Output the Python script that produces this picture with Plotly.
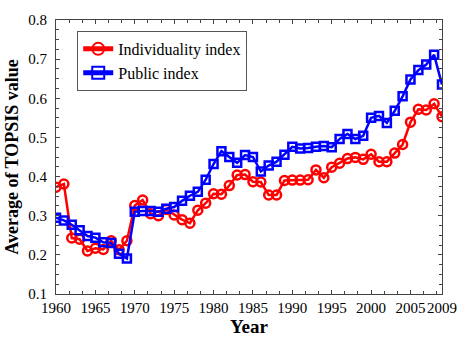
import plotly.graph_objects as go

years = list(range(1960, 2010))
individuality = [0.373, 0.381, 0.243, 0.240, 0.210, 0.217, 0.214, 0.236, 0.213, 0.236,
                 0.326, 0.340, 0.305, 0.300, 0.316, 0.302, 0.290, 0.281, 0.314, 0.332,
                 0.356, 0.355, 0.377, 0.404, 0.405, 0.387, 0.386, 0.353, 0.353, 0.390,
                 0.391, 0.391, 0.392, 0.417, 0.397, 0.424, 0.434, 0.446, 0.449, 0.444,
                 0.457, 0.438, 0.438, 0.460, 0.482, 0.539, 0.572, 0.570, 0.586, 0.553]
public = [0.295, 0.288, 0.277, 0.263, 0.248, 0.244, 0.232, 0.230, 0.203, 0.191,
          0.310, 0.312, 0.312, 0.310, 0.318, 0.322, 0.338, 0.351, 0.361, 0.392,
          0.432, 0.465, 0.450, 0.435, 0.455, 0.450, 0.413, 0.428, 0.438, 0.456,
          0.476, 0.472, 0.473, 0.476, 0.478, 0.475, 0.496, 0.509, 0.496, 0.504,
          0.550, 0.555, 0.537, 0.568, 0.605, 0.648, 0.672, 0.686, 0.711, 0.635]
x_ticks = [1960, 1965, 1970, 1975, 1980, 1985, 1990, 1995, 2000, 2005, 2009]
y_ticks = [0.1, 0.2, 0.3, 0.4, 0.5, 0.6, 0.7, 0.8]

font = "Liberation Serif, Times New Roman, serif"

fig = go.Figure()
fig.add_trace(go.Scatter(
    x=years, y=individuality, name="Individuality index", mode="lines+markers",
    line=dict(color="#ff0000", width=2.5),
    marker=dict(symbol="circle-open", size=9, color="#ff0000", line=dict(width=2.5)),
))
fig.add_trace(go.Scatter(
    x=years, y=public, name="Public index", mode="lines+markers",
    line=dict(color="#0000ff", width=2.5),
    marker=dict(symbol="square-open", size=8, color="#0000ff", line=dict(width=2.5)),
))

axis_common = dict(showline=True, linecolor="#444", linewidth=1, mirror="ticks",
                   ticks="inside", ticklen=4, tickcolor="#444", showgrid=False,
                   zeroline=False, tickfont=dict(family=font, size=15, color="black"))

fig.update_layout(
    width=469, height=343,
    margin=dict(l=53, r=17, t=12, b=46),
    paper_bgcolor="white", plot_bgcolor="white",
    font=dict(family=font, color="black"),
    showlegend=True,
    legend=dict(x=0.055, y=0.96, xanchor="left", yanchor="top",
                bordercolor="#555", borderwidth=1, bgcolor="white",
                font=dict(family=font, size=16, color="black"),
                tracegroupgap=0, itemwidth=30, itemsizing="constant"),
    xaxis=dict(range=[1960, 2009], tickvals=x_ticks, ticktext=[str(v) for v in x_ticks],
               tickangle=0,
               title=dict(text="<b>Year</b>", font=dict(family=font, size=19), standoff=2),
               minor=dict(dtick=5/3, tick0=1960, ticks="inside", ticklen=3, tickcolor="#444"),
               **axis_common),
    yaxis=dict(range=[0.1, 0.8], tickvals=y_ticks, ticktext=[f"{v:.1f}" for v in y_ticks],
               ticklabelstandoff=5,
               title=dict(text="<b>Average of TOPSIS value</b>", font=dict(family=font, size=18), standoff=4),
               minor=dict(dtick=0.025, tick0=0.1, ticks="inside", ticklen=3, tickcolor="#444"),
               **axis_common),
)

fig.write_html("out.html", config={"displayModeBar": False},
               post_script="document.body.style.margin='0';")
